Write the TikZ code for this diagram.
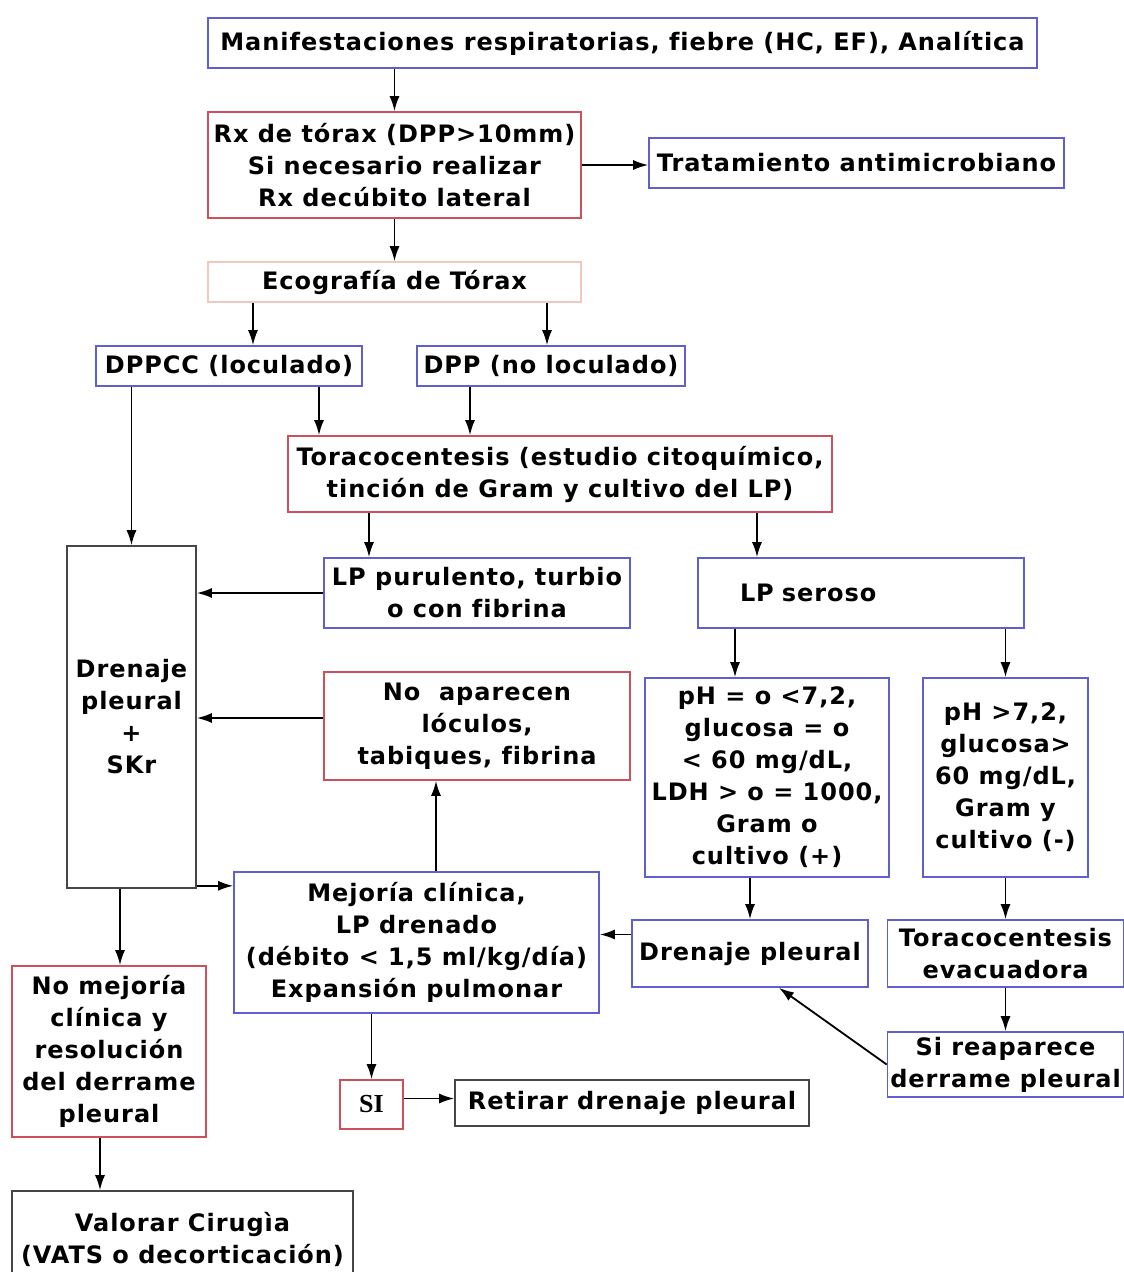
\documentclass[tikz,border=0pt]{standalone}
\usepackage{fontspec}
\setmainfont{DejaVu Sans}[LetterSpace=4,Ligatures={NoCommon}]
\newfontfamily\sifont{Liberation Serif}
\usetikzlibrary{arrows.meta,positioning,calc}
\definecolor{bluebord}{RGB}{95,95,205}
\definecolor{redbord}{RGB}{205,80,90}
\definecolor{pinkbord}{RGB}{240,200,190}
\definecolor{graybord}{RGB}{70,70,70}
\tikzset{
    -{Latex[length=15pt,width=10pt]},x=1pt,y=-1pt,
    box/.style ={rectangle, draw, line width=1.6pt, align=center, inner sep=0pt,
                 font=\bfseries\fontsize{24}{32}\selectfont},
    bluebox/.style ={box, draw=bluebord},
    redbox/.style ={box, draw=redbord},
    pinkbox/.style ={box, draw=pinkbord},
    graybox/.style ={box, draw=graybord}
}
\begin{document}
\begin{tikzpicture}[line width=1.8pt]
 \useasboundingbox (0,0) rectangle (1124,1272);
    \node[bluebox, minimum width=829pt, minimum height=50pt] (manif) at (622.5,43) {Manifestaciones respiratorias, fiebre (HC, EF), Analítica};
    \node[redbox, minimum width=373pt, minimum height=106pt] (rx) at (394.5,165) {Rx de tórax (DPP>10mm)\\Si necesario realizar\\Rx decúbito lateral};
    \node[bluebox, minimum width=415pt, minimum height=50pt] (trat) at (856.5,163) {Tratamiento antimicrobiano};
    \node[pinkbox, minimum width=373pt, minimum height=40pt] (eco) at (394.5,282) {Ecografía de Tórax};
    \node[bluebox, minimum width=266pt, minimum height=40pt] (dppcc) at (229,366) {DPPCC (loculado)};
    \node[bluebox, minimum width=268pt, minimum height=40pt] (dpp) at (551,366) {DPP (no loculado)};
    \node[redbox, minimum width=544pt, minimum height=76pt] (tora) at (560,474) {Toracocentesis (estudio citoquímico,\\tinción de Gram y cultivo del LP)};

    \node[graybox, minimum width=129pt, minimum height=342pt] (dren) at (131.5,717) {Drenaje\\pleural\\+\\SKr};
    \node[bluebox, minimum width=306pt, minimum height=70pt] (lppur) at (477,593) {LP purulento, turbio\\o con fibrina};
    \node[bluebox, text width=242pt, inner xsep=42pt, align=left, minimum height=70pt] (lpser) at (861,593) {LP seroso};
    \node[redbox, minimum width=306pt, minimum height=108pt] (noap) at (477,726) {No~~aparecen\\lóculos,\\tabiques, fibrina};
    \node[bluebox, minimum width=244pt, minimum height=199pt] (ph1) at (767,777.5) {pH = o <7,2,\\glucosa = o\\< 60 mg/dL,\\LDH > o = 1000,\\Gram o\\cultivo (+)};
    \node[bluebox, minimum width=165pt, minimum height=199pt] (ph2) at (1005.5,777.5) {pH >7,2,\\glucosa>\\60 mg/dL,\\Gram y\\cultivo (-)};

    \node[bluebox, minimum width=365pt, minimum height=141pt] (mej) at (416.5,942.5) {Mejoría clínica,\\LP drenado\\(débito < 1,5 ml/kg/día)\\Expansión pulmonar};
    \node[bluebox, minimum width=236pt, minimum height=67pt] (drpl) at (750,953.5) {Drenaje pleural};
    \node[bluebox, minimum width=236pt, minimum height=67pt] (tev) at (1005.5,953.5) {Toracocentesis\\evacuadora};
    \node[bluebox, minimum width=236pt, minimum height=65pt] (sirep) at (1005.5,1064.5) {Si reaparece\\derrame pleural};
    \node[redbox, minimum width=194pt, minimum height=171pt] (nomej) at (109,1051.5) {No mejoría\\clínica y\\resolución\\del derrame\\pleural};
    \node[redbox, minimum width=63pt, minimum height=49pt, font=\sifont\bfseries\fontsize{26}{32}\selectfont] (si) at (371.5,1104.5) {SI};
    \node[graybox, minimum width=354pt, minimum height=46pt] (ret) at (632,1103) {Retirar drenaje pleural};
    \node[graybox, minimum width=341pt, minimum height=96pt] (val) at (182.5,1239) {Valorar Cirugìa\\(VATS o decorticación)};

    \path (rx.north |- manif.south) edge (rx.north);
    \path (rx.east) edge (rx.east -| trat.west);
    \path (rx.south) edge (eco.north);
    \path ([xshift=24pt]dppcc.north |- eco.south) edge ([xshift=24pt]dppcc.north);
    \path ([xshift=-4pt]dpp.north |- eco.south) edge ([xshift=-4pt]dpp.north);
    \path ([xshift=90pt]dppcc.south) edge ([xshift=90pt]dppcc.south |- tora.north);
    \path ([xshift=-81pt]dpp.south) edge ([xshift=-81pt]dpp.south |- tora.north);
    \path (dren.north |- dppcc.south) edge (dren.north);
    \path ([xshift=-108pt]lppur.north |- tora.south) edge ([xshift=-108pt]lppur.north);
    \path ([xshift=-104pt]lpser.north |- tora.south) edge ([xshift=-104pt]lpser.north);
    \path (lppur.west) edge (lppur.west -| dren.east);
    \path ([yshift=8pt]noap.west) edge ([yshift=8pt]noap.west -| dren.east);
    \path ([xshift=19.5pt]mej.north) edge ([xshift=19.5pt]mej.north |- noap.south);
    \path ([yshift=3pt]dren.south east) edge ([yshift=3pt]dren.south east -| mej.west);
    \path ([xshift=-32pt]ph1.north |- lpser.south) edge ([xshift=-32pt]ph1.north);
    \path (ph2.north |- lpser.south) edge (ph2.north);
    \path (drpl.north |- ph1.south) edge (drpl.north);
    \path (ph2.south) edge (tev.north);
    \path ([yshift=19pt]drpl.west) edge ([yshift=19pt]drpl.west -| mej.east);
    \path (tev.south) edge (sirep.north);
    \path (sirep.west) edge ([xshift=29pt]drpl.south);
    \path (si.north |- mej.south) edge (si.north);
    \path ([yshift=6pt]si.east) edge ([yshift=6pt]si.east -| ret.west);
    \path ([xshift=11pt]nomej.north |- dren.south) edge ([xshift=11pt]nomej.north);
    \path ([xshift=-9pt]nomej.south) edge ([xshift=-9pt]nomej.south |- val.north);
\end{tikzpicture}
\end{document}
